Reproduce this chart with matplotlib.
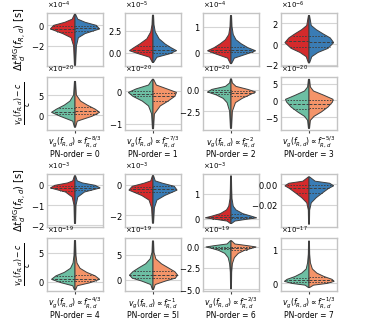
import numpy as np
import matplotlib.pyplot as plt
from matplotlib.ticker import ScalarFormatter

# Split violins, 2 blocks x (delay row, speed row) x 4 PN orders
# panel index k = block*8 + row*4 + col

exps = [-4, -5, -4, -6, -20, -20, -20, -20,
        -3, -3, -3, 0, -19, -19, -19, -17]

ylims = [(-3.95, 1.2), (-1.5, 4.55), (-0.5, 1.52), (-2.1, 3.0),
         (-3.7, 9.5), (-1.2, 0.45), (-4.7, 1.5), (-8.9, 7.0),
         (-2.08, 0.54), (-2.75, 0.7), (-0.34, 1.8), (-0.0415, 0.01),
         (-1.6, 7.5), (-2.3, 8.4), (-5.2, 1.0), (-0.22, 1.32)]

yticks = [[-2, 0], [0, 2.5], [0, 1], [-2, 0, 2],
          [0, 5], [-1, 0], [-2.5, 0], [-5, 0, 5],
          [-2, -1, 0], [-2, 0], [0, 1], [-0.02, 0.0],
          [0, 5], [0, 5], [-5, -2.5, 0], [0, 1]]

knot_y = [
    [-3.88, -2.0, -1.2, -0.8, -0.35, 0.0, 0.3, 0.6, 1.07],
    [-1.1, -0.5, -0.1, 0.25, 0.6, 1.0, 1.6, 2.4, 3.2, 4.3],
    [-0.41, -0.2, -0.05, 0.08, 0.2, 0.35, 0.5, 0.7, 1.0, 1.42],
    [-1.8, -1.2, -0.8, -0.4, 0.15, 0.6, 1.0, 1.4, 1.8, 2.75],
    [-3.0, -1.5, -0.3, 0.7, 1.5, 2.5, 3.5, 5.0, 8.4],
    [-1.16, -0.7, -0.45, -0.3, -0.15, -0.03, 0.08, 0.2, 0.38],
    [-4.5, -2.5, -1.5, -1.0, -0.6, -0.25, 0.05, 0.4, 0.8, 1.27],
    [-8.4, -6.0, -4.8, -3.5, -2.0, -0.5, 0.3, 1.5, 2.8, 4.0, 6.3],
    [-1.9, -1.0, -0.6, -0.35, -0.15, -0.02, 0.1, 0.2, 0.45],
    [-2.5, -1.5, -1.0, -0.7, -0.35, -0.1, 0.1, 0.25, 0.59],
    [-0.2, -0.1, -0.02, 0.03, 0.1, 0.2, 0.35, 0.5, 0.8, 1.2, 1.72],
    [-0.0387, -0.025, -0.018, -0.013, -0.008, -0.004, -0.0015, 0.001, 0.003, 0.0072],
    [-1.4, -0.7, -0.2, 0.4, 1.0, 1.6, 2.3, 3.2, 4.5, 7.05],
    [-2.0, -1.0, -0.3, 0.3, 0.9, 1.6, 2.4, 3.2, 4.2, 5.5, 7.8],
    [-4.93, -3.0, -2.0, -1.3, -0.8, -0.45, -0.2, -0.05, 0.1, 0.3, 0.68],
    [-0.12, -0.05, 0.0, 0.06, 0.12, 0.2, 0.3, 0.42, 0.6, 0.85, 1.23],
]

w_left = [
    [0.01, 0.025, 0.07, 0.22, 0.44, 0.38, 0.18, 0.05, 0.01],
    [0.01, 0.06, 0.26, 0.42, 0.34, 0.24, 0.11, 0.04, 0.018, 0.01],
    [0.01, 0.06, 0.26, 0.42, 0.3, 0.19, 0.1, 0.04, 0.018, 0.01],
    [0.01, 0.05, 0.16, 0.32, 0.43, 0.36, 0.25, 0.13, 0.04, 0.01],
    [0.01, 0.04, 0.26, 0.42, 0.33, 0.19, 0.09, 0.025, 0.01],
    [0.01, 0.025, 0.08, 0.19, 0.36, 0.44, 0.3, 0.08, 0.01],
    [0.01, 0.025, 0.07, 0.14, 0.26, 0.42, 0.34, 0.1, 0.025, 0.01],
    [0.01, 0.025, 0.08, 0.2, 0.32, 0.4, 0.42, 0.25, 0.08, 0.025, 0.01],
    [0.01, 0.018, 0.05, 0.17, 0.44, 0.36, 0.13, 0.04, 0.01],
    [0.01, 0.025, 0.07, 0.2, 0.43, 0.37, 0.16, 0.04, 0.01],
    [0.01, 0.07, 0.3, 0.46, 0.34, 0.19, 0.08, 0.04, 0.018, 0.012, 0.008],
    [0.008, 0.012, 0.04, 0.13, 0.25, 0.35, 0.43, 0.36, 0.11, 0.01],
    [0.01, 0.04, 0.24, 0.42, 0.34, 0.19, 0.08, 0.035, 0.018, 0.01],
    [0.01, 0.04, 0.2, 0.37, 0.42, 0.36, 0.25, 0.13, 0.05, 0.018, 0.01],
    [0.008, 0.012, 0.025, 0.05, 0.11, 0.22, 0.35, 0.45, 0.3, 0.07, 0.01],
    [0.01, 0.07, 0.3, 0.44, 0.39, 0.25, 0.13, 0.05, 0.025, 0.012, 0.008],
]

w_right = [
    [0.01, 0.025, 0.06, 0.18, 0.44, 0.38, 0.18, 0.05, 0.01],
    [0.01, 0.07, 0.3, 0.42, 0.32, 0.22, 0.11, 0.04, 0.018, 0.01],
    [0.01, 0.06, 0.27, 0.44, 0.3, 0.18, 0.09, 0.04, 0.018, 0.01],
    [0.01, 0.05, 0.16, 0.34, 0.44, 0.38, 0.25, 0.13, 0.04, 0.01],
    [0.01, 0.04, 0.3, 0.44, 0.36, 0.22, 0.1, 0.025, 0.01],
    [0.01, 0.025, 0.13, 0.27, 0.39, 0.42, 0.25, 0.06, 0.01],
    [0.01, 0.025, 0.08, 0.2, 0.33, 0.44, 0.3, 0.09, 0.025, 0.01],
    [0.01, 0.025, 0.09, 0.22, 0.34, 0.42, 0.43, 0.27, 0.08, 0.025, 0.01],
    [0.01, 0.018, 0.05, 0.17, 0.45, 0.36, 0.13, 0.04, 0.01],
    [0.01, 0.025, 0.07, 0.21, 0.43, 0.38, 0.17, 0.04, 0.01],
    [0.01, 0.07, 0.3, 0.46, 0.36, 0.21, 0.09, 0.04, 0.018, 0.012, 0.008],
    [0.008, 0.012, 0.04, 0.13, 0.25, 0.35, 0.44, 0.37, 0.11, 0.01],
    [0.01, 0.04, 0.26, 0.44, 0.36, 0.21, 0.09, 0.035, 0.018, 0.01],
    [0.01, 0.04, 0.22, 0.4, 0.44, 0.39, 0.27, 0.15, 0.05, 0.018, 0.01],
    [0.008, 0.012, 0.025, 0.06, 0.13, 0.24, 0.37, 0.45, 0.3, 0.07, 0.01],
    [0.01, 0.08, 0.32, 0.45, 0.41, 0.27, 0.14, 0.06, 0.025, 0.012, 0.008],
]

# quartiles (q1, median, q3) of each half
q_left = [[-0.6, -0.35, -0.1], [0.05, 0.35, 0.8], [0.04, 0.1, 0.22], [-0.3, 0.3, 0.75],
          [0.3, 0.9, 1.8], [-0.15, -0.07, 0.0], [-0.5, -0.25, -0.05], [-2.5, -1.2, 0.0],
          [-0.28, -0.15, -0.05], [-0.5, -0.3, -0.12], [0.0, 0.05, 0.15], [-0.008, -0.004, -0.001],
          [0.15, 0.45, 1.0], [0.3, 0.9, 1.7], [-0.3, -0.15, -0.03], [0.04, 0.1, 0.17]]
q_right = [[-0.55, -0.3, -0.05], [0.0, 0.3, 0.75], [0.04, 0.11, 0.23], [-0.25, 0.25, 0.8],
           [0.4, 1.0, 2.0], [-0.3, -0.15, -0.05], [-0.7, -0.35, -0.1], [-2.4, -1.0, 0.2],
           [-0.25, -0.13, -0.03], [-0.5, -0.28, -0.1], [0.01, 0.06, 0.17], [-0.008, -0.004, -0.001],
           [0.2, 0.5, 1.1], [0.3, 0.9, 1.8], [-0.35, -0.17, -0.03], [0.04, 0.1, 0.18]]

powers = ["-8/3", "-7/3", "-2", "-5/3", "-4/3", "-1", "-2/3", "-1/3"]
pn_names = ["0", "1", "2", "3", "4", "5l", "6", "7"]

delay_colors = ["#d42a2c", "#3a7cb5"]
speed_colors = ["#6dbfa3", "#f49469"]
edge = "#3f3f3f"

plt.rcParams['font.family'] = ['DejaVu Sans']

W, H = 375, 325
fig = plt.figure(figsize=(W / 100, H / 100), dpi=100)

col_left = [47, 125, 203, 281]
row_top = [13, 77, 174, 238]
aw, ah = 56, 53


def half(ax, y, w, side, color, q):
    y = np.array(y)
    w = np.array(w) * side
    xs = np.concatenate([[0], w, [0]])
    ys = np.concatenate([[y[0]], y, [y[-1]]])
    ax.fill(xs, ys, facecolor=color, edgecolor=edge, lw=0.7, zorder=3)
    for j, qq in enumerate(q):
        xq = np.interp(qq, y, w)
        ls = (0, (3, 1.5)) if j == 1 else (0, (1.5, 1.5))
        ax.plot([0, xq], [qq, qq], color=edge, lw=0.7, ls=ls, zorder=4)


for k in range(16):
    block, row, col = k // 8, (k // 4) % 2, k % 4
    top = row_top[block * 2 + row]
    ax = fig.add_axes([col_left[col] / W, 1 - (top + ah) / H, aw / W, ah / H])
    sc = 10.0 ** exps[k]
    cols = delay_colors if row == 0 else speed_colors
    ky = np.array(knot_y[k]) * sc
    half(ax, ky, w_left[k], -1, cols[0], np.array(q_left[k]) * sc)
    half(ax, ky, w_right[k], 1, cols[1], np.array(q_right[k]) * sc)

    ax.set_xlim(-0.5, 0.5)
    ax.set_ylim(ylims[k][0] * sc, ylims[k][1] * sc)
    ax.set_yticks(np.array(yticks[k]) * sc)
    fmt = ScalarFormatter(useMathText=True)
    fmt.set_powerlimits((-3, 3))
    ax.yaxis.set_major_formatter(fmt)
    ax.yaxis.get_offset_text().set_fontsize(5)
    ax.tick_params(axis='y', labelsize=6, length=0, pad=2)
    ax.grid(axis='y', color='#d5d5d5', lw=0.8, zorder=0)
    for s in ax.spines.values():
        s.set_color('#c4c4c4')
        s.set_linewidth(1.0)
    ax.set_facecolor('white')

    if row == 1:
        n = block * 4 + col
        lab = (r"$v_g(f_{R,d}) \propto f_{R,d}^{" + powers[n] + "}$\n"
               + "PN-order = " + pn_names[n])
        ax.set_xticks([0])
        ax.set_xticklabels([lab], fontsize=5.5, linespacing=1.0)
        ax.tick_params(axis='x', length=2.5, color='#3f3f3f', pad=1)
    else:
        ax.set_xticks([])

    if col == 0:
        if row == 0:
            ax.set_ylabel(r"$\Delta t_d^{\rm MG}(f_{R,d})$ [s]", fontsize=7, labelpad=2)
        else:
            ax.set_ylabel(r"$\frac{v_g(f_{R,d})-c}{c}$", fontsize=8, labelpad=2)

fig.savefig("out.png", dpi=100)
